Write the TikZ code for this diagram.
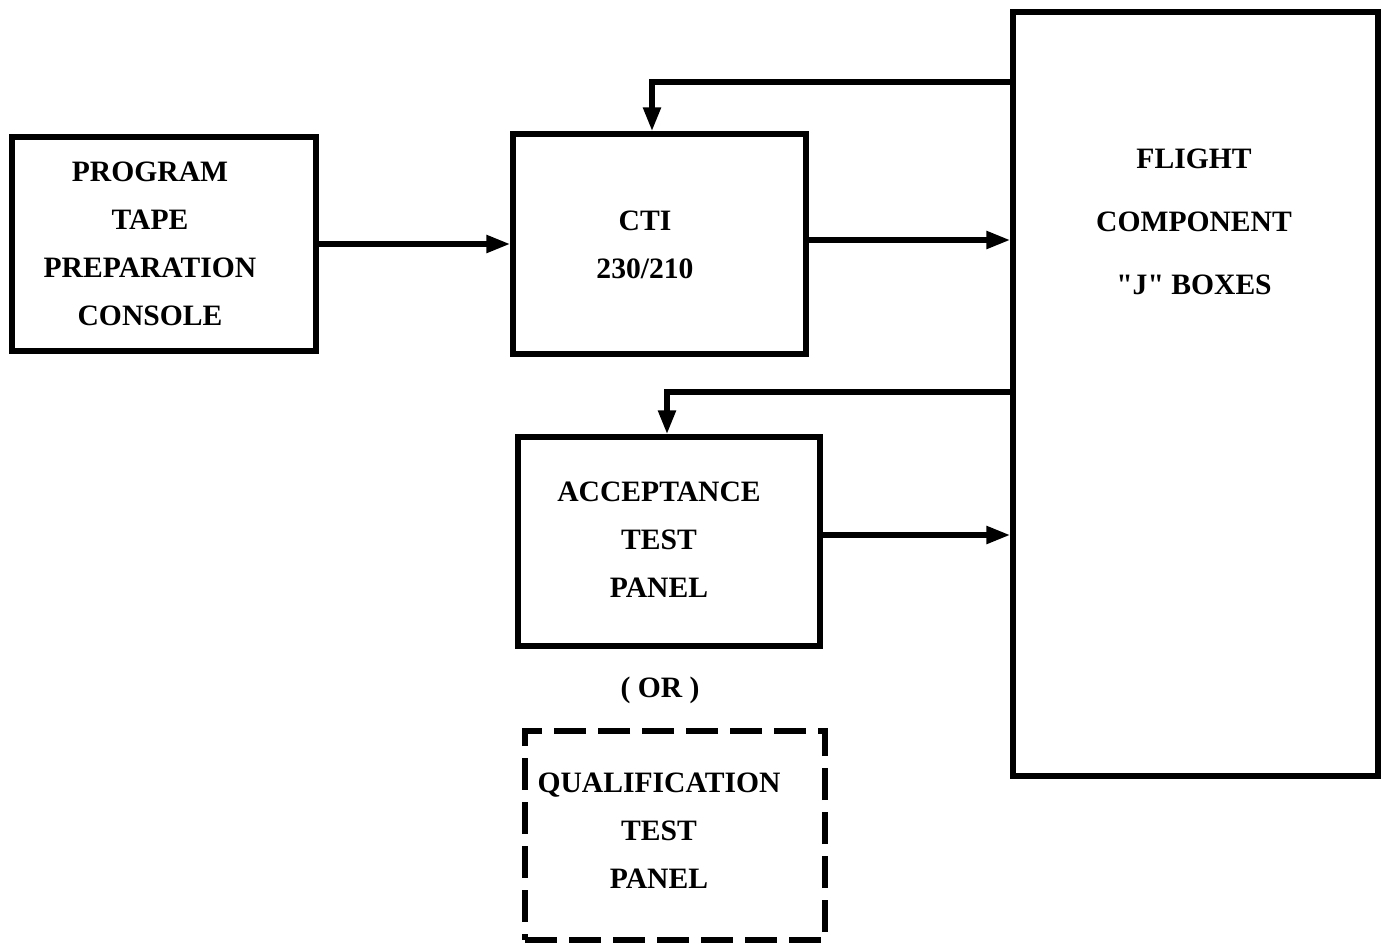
\documentclass[tikz,border=0pt]{standalone}
\usepackage{fontspec}
\setmainfont{Liberation Serif}[Ligatures=TeXOff]
\usetikzlibrary{arrows.meta}
\begin{document}
\begin{tikzpicture}[x=0.5pt,y=-0.5pt,
  box/.style={draw, line width=2.75pt, rectangle, inner sep=0pt},
  dbox/.style={draw, line width=2.75pt, rectangle, inner sep=0pt, dash pattern=on 16pt off 6pt},
  lbl/.style={align=center, font=\bfseries\fontsize{14.8}{24}\selectfont, inner sep=0pt},
  conn/.style={line width=2.75pt, -{Triangle[length=12pt,width=8.5pt]}}
]
\useasboundingbox (0,0) rectangle (1382,944);
\fill[white] (0,0) rectangle (1382,944);

% boxes
\node[box, minimum width=152pt, minimum height=107pt] (prog) at (164,244) {};
\node[box, minimum width=146.5pt, minimum height=110pt] (cti) at (659.5,244) {};
\node[box, minimum width=182.5pt, minimum height=382pt] (flight) at (1195.5,394) {};
\node[box, minimum width=151pt, minimum height=104.5pt] (acc) at (669,541.5) {};
\node[dbox, minimum width=150pt, minimum height=104.5pt] (qual) at (675,835.5) {};

% labels
\node[lbl] (progt) at (150,244) {PROGRAM\\TAPE\\PREPARATION\\CONSOLE};
\node[lbl] (ctit) at (645,245) {CTI\\230/210};
\node[lbl, font=\bfseries\fontsize{14.8}{31.5}\selectfont] (flightt) at (1194,222) {FLIGHT\\COMPONENT\\"J" BOXES};
\node[lbl] (acct) at (659,540) {ACCEPTANCE\\TEST\\PANEL};
\node[lbl] (ort) at (660,690) {( OR )};
\node[lbl] (qualt) at (659,831) {QUALIFICATION\\TEST\\PANEL};

% connectors
\draw[conn] (prog.east) -- (cti.west);
\draw[conn] ([yshift=2pt]cti.east) -- ([yshift=2pt]cti.east -| flight.west);
\draw[conn] (flight.west |- 0,82) -| ([xshift=-3.75pt]cti.north);
\draw[conn] (flight.west |- 0,392) -| ([xshift=-1pt]acc.north);
\draw[conn] ([yshift=3.25pt]acc.east) -- ([yshift=3.25pt]acc.east -| flight.west);
\end{tikzpicture}
\end{document}
